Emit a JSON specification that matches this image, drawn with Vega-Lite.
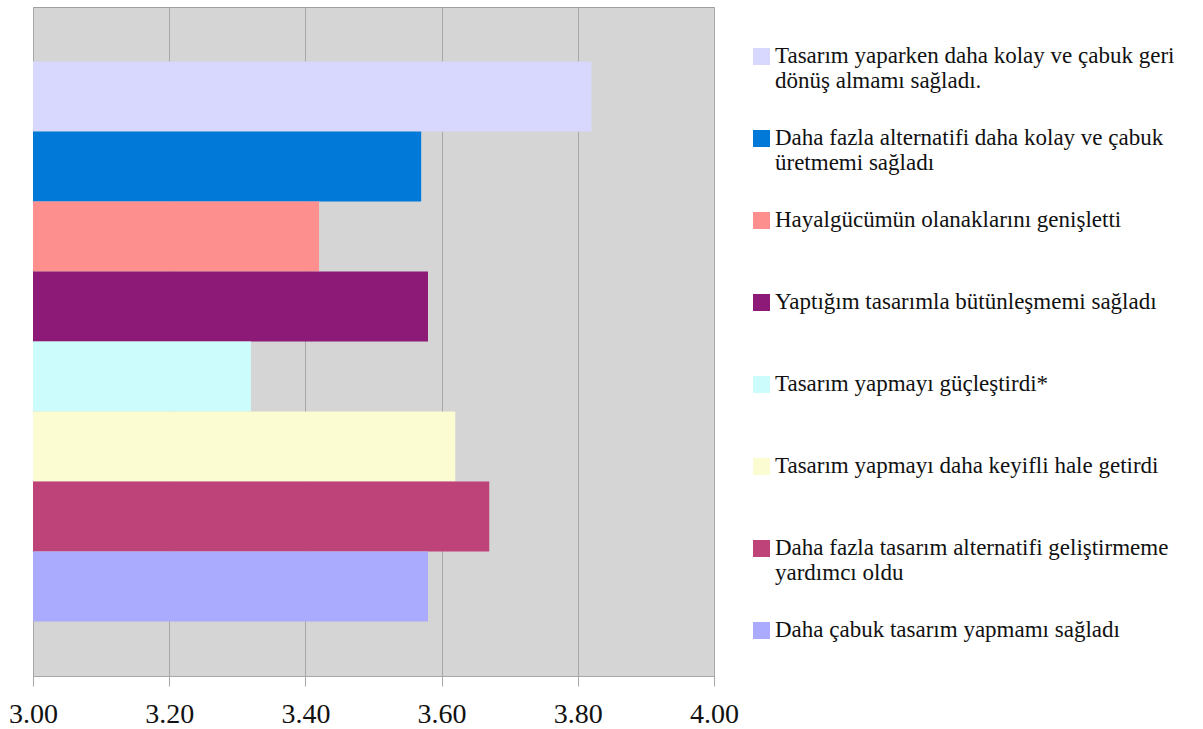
{
  "$schema": "https://vega.github.io/schema/vega-lite/v6.json",
  "width": 681,
  "height": 669,
  "autosize": {"type": "none"},
  "padding": {"left": 33, "top": 7, "right": 489, "bottom": 53},
  "background": "white",
  "config": {
    "font": "Liberation Serif",
    "view": {"fill": "#d5d5d5", "stroke": "#a0a0a0", "strokeWidth": 1}
  },
  "data": {
    "values": [
      {"item": "Tasarım yaparken daha kolay ve çabuk geri|dönüş almamı sağladı.", "mean": 3.82},
      {"item": "Daha fazla alternatifi daha kolay ve çabuk|üretmemi sağladı", "mean": 3.57},
      {"item": "Hayalgücümün olanaklarını genişletti", "mean": 3.42},
      {"item": "Yaptığım tasarımla bütünleşmemi sağladı", "mean": 3.58},
      {"item": "Tasarım yapmayı güçleştirdi*", "mean": 3.32},
      {"item": "Tasarım yapmayı daha keyifli hale getirdi", "mean": 3.62},
      {"item": "Daha fazla tasarım alternatifi geliştirmeme|yardımcı oldu", "mean": 3.67},
      {"item": "Daha çabuk tasarım yapmamı sağladı", "mean": 3.58}
    ]
  },
  "mark": {"type": "bar", "clip": true},
  "encoding": {
    "y": {
      "field": "item",
      "type": "nominal",
      "sort": null,
      "axis": null,
      "scale": {"paddingInner": 0, "paddingOuter": 0.78}
    },
    "x": {
      "field": "mean",
      "type": "quantitative",
      "scale": {"domain": [3, 4], "zero": false, "nice": false},
      "axis": {
        "title": null,
        "values": [3, 3.2, 3.4, 3.6, 3.8, 4],
        "format": ".2f",
        "grid": true,
        "gridColor": "#a8a8a8",
        "gridWidth": 1,
        "domainColor": "#a8a8a8",
        "tickColor": "#a8a8a8",
        "tickSize": 10,
        "labelFontSize": 28,
        "labelColor": "#111111",
        "labelPadding": 14,
        "labelFlush": false
      }
    },
    "color": {
      "field": "item",
      "type": "nominal",
      "sort": null,
      "scale": {
        "domain": [
          "Tasarım yaparken daha kolay ve çabuk geri|dönüş almamı sağladı.",
          "Daha fazla alternatifi daha kolay ve çabuk|üretmemi sağladı",
          "Hayalgücümün olanaklarını genişletti",
          "Yaptığım tasarımla bütünleşmemi sağladı",
          "Tasarım yapmayı güçleştirdi*",
          "Tasarım yapmayı daha keyifli hale getirdi",
          "Daha fazla tasarım alternatifi geliştirmeme|yardımcı oldu",
          "Daha çabuk tasarım yapmamı sağladı"
        ],
        "range": ["#d8d8fe", "#0079d9", "#fd8f8f", "#8c1a76", "#ccfcfc", "#fbfcd2", "#be4379", "#aaaafe"]
      },
      "legend": {
        "title": null,
        "orient": "none",
        "legendX": 717,
        "legendY": 38,
        "padding": 0,
        "symbolType": "square",
        "symbolSize": 289,
        "symbolStrokeWidth": 0,
        "labelFont": "Liberation Serif",
        "labelFontSize": 23,
        "labelColor": "#111111",
        "labelLimit": 600,
        "labelOffset": 2,
        "labelBaseline": "top",
        "labelExpr": "split(datum.label, '|')",
        "gridAlign": "all",
        "rowPadding": 33,
        "encode": {
          "labels": {
            "update": {
              "dy": {"value": -12},
              "lineHeight": {"value": 25},
              "font": {"value": "Liberation Serif"},
              "fontSize": {"value": 23},
              "fill": {"value": "#111111"}
            }
          }
        }
      }
    }
  }
}
